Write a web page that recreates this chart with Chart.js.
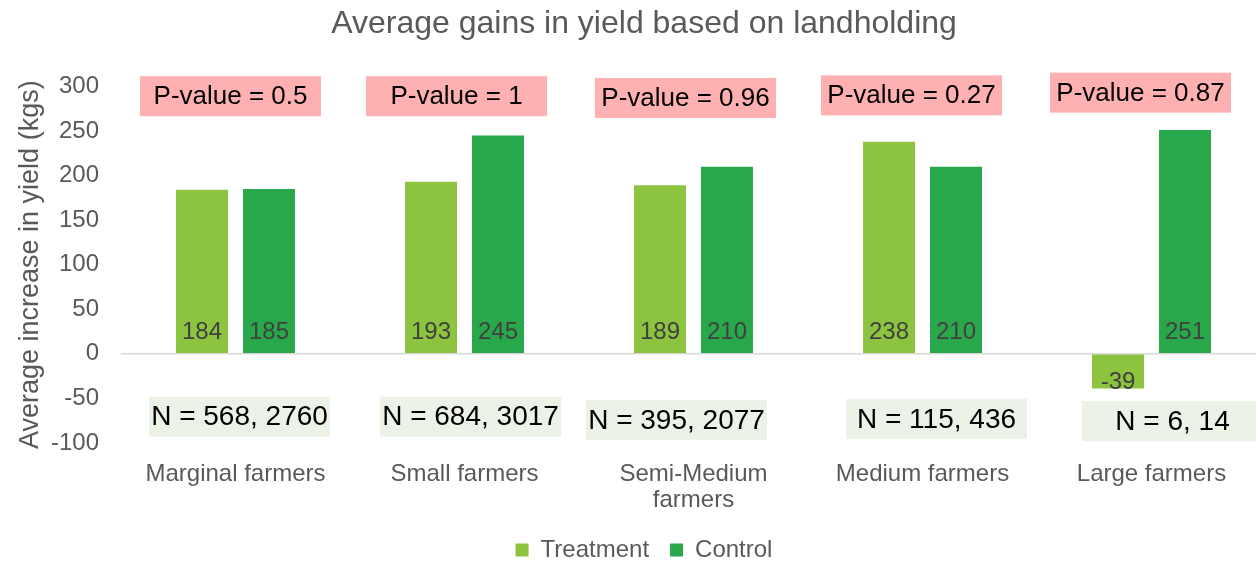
<!DOCTYPE html>
<html>
<head>
<meta charset="utf-8">
<script src="https://cdn.jsdelivr.net/npm/chart.js@4.4.1/dist/chart.umd.min.js"></script>
<style>
  html, body { margin: 0; padding: 0; background: #fff; }
  #wrap { width: 1256px; height: 569px; overflow: hidden; }
</style>
</head>
<body>
<div id="wrap"><canvas id="yieldChart" width="1288" height="569"></canvas></div>
<script>
// data
const categories = ['Marginal farmers', 'Small farmers', ['Semi-Medium', 'farmers'], 'Medium farmers', 'Large farmers'];
const treatment = [184, 193, 189, 238, -39];
const control = [185, 245, 210, 210, 251];
const pValues = ['P-value = 0.5', 'P-value = 1', 'P-value = 0.96', 'P-value = 0.27', 'P-value = 0.87'];
const sampleSizes = ['N = 568, 2760', 'N = 684, 3017', 'N = 395, 2077', 'N = 115, 436', 'N = 6, 14'];
const yTicks = {min: -100, max: 300, step: 50};

const FONT = "'Liberation Sans', Arial, sans-serif";
const GREY = '#595959';

//value labels drawn inside the bars, near the base
const barLabels = {
  id: 'barLabels',
  afterDatasetsDraw(chart) {
    const ctx = chart.ctx;
    ctx.save();
    ctx.font = '24px ' + FONT;
    ctx.fillStyle = '#404040';
    ctx.textAlign = 'center';
    ctx.textBaseline = 'middle';
    chart.data.datasets.forEach((ds, i) => {
      chart.getDatasetMeta(i).data.forEach((bar, j) => {
        const v = ds.data[j];
        const y = v >= 0 ? bar.base - 21 : bar.base + 28;
        ctx.fillText(v, bar.x, y);
      });
    });
    ctx.restore();
  }
};

//text boxes (p-values above, sample sizes below)
const noteBoxes = {
  id: 'noteBoxes',
  afterDraw(chart, args, opts) {
    const ctx = chart.ctx;
    const xs = chart.scales.x, ys = chart.scales.y;
    ctx.save();
    ctx.textAlign = 'center';
    ctx.textBaseline = 'middle';
    opts.groups.forEach(g => {
      g.texts.forEach((t, i) => {
        const p = g.place[i];
        const cx = xs.getPixelForValue(i) + p.dx;
        const cy = ys.getPixelForValue(p.y);
        const w = g.w, h = g.h;
        ctx.fillStyle = g.fill;
        ctx.fillRect(cx - w / 2, cy - h / 2, w, h);
        ctx.fillStyle = '#000';
        ctx.font = g.size + 'px ' + FONT;
        ctx.fillText(t, cx, cy + 1);
      });
    });
    ctx.restore();
  }
};

const config = {
  type: 'bar',
  data: {
    labels: categories,
    datasets: [
      {label: 'Treatment', data: treatment, backgroundColor: '#8CC43F', categoryPercentage: 0.585, barPercentage: 0.776},
      {label: 'Control', data: control, backgroundColor: '#28A84A', categoryPercentage: 0.585, barPercentage: 0.776}
    ]
  },
  plugins: [barLabels, noteBoxes],
  options: {
    responsive: false,
    animation: false,
    layout: {padding: {left: 0, right: 0, top: 0, bottom: -3}},
    plugins: {
      title: {
        display: true,
        text: 'Average gains in yield based on landholding',
        color: GREY,
        font: {family: FONT, size: 32, weight: 'normal'},
        padding: {top: 5, bottom: 43}
      },
      legend: {
        position: 'bottom',
        labels: {
          color: GREY,
          font: {family: FONT, size: 24},
          boxWidth: 13,
          boxHeight: 13,
          padding: 21
        }
      },
      tooltip: {enabled: false},
      noteBoxes: {
        groups: [
          {
            texts: pValues, fill: '#FFB0B0', w: 181, h: 40, size: 26,
            place: [{dx: -5, y: 289}, {dx: -8, y: 289}, {dx: -8, y: 287}, {dx: -11, y: 290}, {dx: -11, y: 293}]
          },
          {
            texts: sampleSizes, fill: '#EDF2E7', w: 181, h: 40, size: 28,
            place: [{dx: 4, y: -70.5}, {dx: 6, y: -70.5}, {dx: -17, y: -74}, {dx: 14, y: -73}, {dx: 21, y: -75.5}]
          }
        ]
      }
    },
    scales: {
      x: {
        grid: {display: false},
        border: {display: false},
        ticks: {color: GREY, font: {family: FONT, size: 24, lineHeight: 1.1}, padding: 10, maxRotation: 0, autoSkip: false},
        afterFit: s => { s.height = 74; }
      },
      y: {
        min: yTicks.min,
        max: yTicks.max,
        ticks: {stepSize: yTicks.step, color: GREY, font: {family: FONT, size: 24}, padding: 22},
        grid: {
          drawTicks: false,
          lineWidth: 1.5,
          color: c => c.tick && c.tick.value === 0 ? '#D9D9D9' : 'rgba(0,0,0,0)'
        },
        border: {display: false},
        title: {
          display: true,
          text: 'Average increase in yield (kgs)',
          color: GREY,
          font: {family: FONT, size: 27},
          padding: {top: 14, bottom: 0}
        },
        afterFit: s => { s.width = 121; }
      },
      // empty right-hand spacer so the plot runs past the cropped edge
      spacer: {
        type: 'linear',
        position: 'right',
        ticks: {display: false},
        grid: {display: false},
        border: {display: false},
        afterFit: s => { s.width = 22; }
      }
    }
  }
};

const yieldChart = new Chart(document.getElementById('yieldChart'), config);
</script>
</body>
</html>
